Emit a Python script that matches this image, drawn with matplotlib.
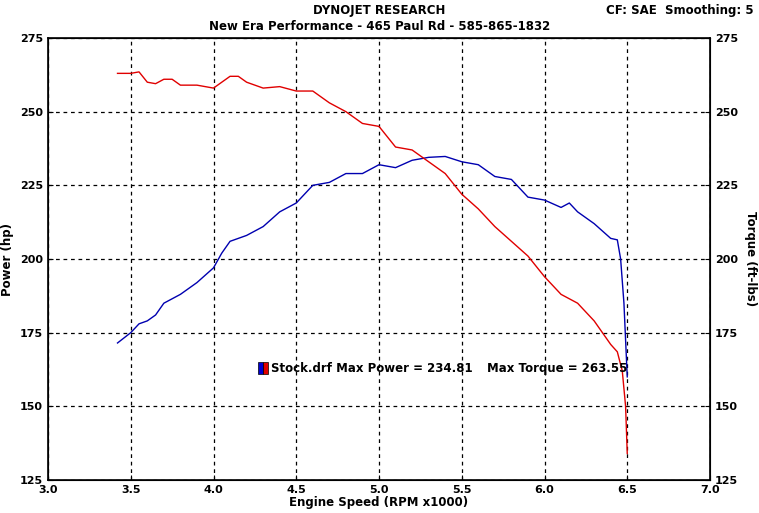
import numpy as np
import matplotlib.pyplot as plt
from matplotlib.patches import Rectangle

# Power curve (hp) vs engine speed (RPM x1000)
power_rpm = [3.42, 3.5, 3.55, 3.6, 3.65, 3.7, 3.8, 3.9, 4.0, 4.05, 4.1, 4.2, 4.3, 4.4, 4.5,
             4.6, 4.7, 4.8, 4.9, 5.0, 5.1, 5.2, 5.3, 5.4, 5.5, 5.6, 5.7, 5.8, 5.9, 6.0,
             6.1, 6.15, 6.2, 6.3, 6.4, 6.44, 6.46, 6.48, 6.5]
power_hp = [171.5, 175, 178, 179, 181, 185, 188, 192, 197, 202, 206, 208, 211, 216, 219,
            225, 226, 229, 229, 232, 231, 233.5, 234.5, 234.8, 233, 232, 228, 227, 221, 220,
            217.5, 219, 216, 212, 207, 206.5, 200, 185, 160]

# Torque curve (ft-lbs)
torque_rpm = [3.42, 3.5, 3.55, 3.6, 3.65, 3.7, 3.75, 3.8, 3.9, 4.0, 4.1, 4.15, 4.2, 4.3,
              4.4, 4.5, 4.6, 4.7, 4.8, 4.9, 5.0, 5.1, 5.2, 5.3, 5.4, 5.5, 5.6, 5.7,
              5.8, 5.9, 6.0, 6.1, 6.2, 6.3, 6.4, 6.44, 6.47, 6.49, 6.5]
torque_ftlb = [263, 263, 263.5, 260, 259.5, 261, 261, 259, 259, 258, 262, 262, 260, 258,
               258.5, 257, 257, 253, 250, 246, 245, 238, 237, 233, 229, 222, 217, 211,
               206, 201, 194, 188, 185, 179, 171, 168.5, 162, 150, 134]

plt.rcParams['font.family'] = ['DejaVu Sans']
fig = plt.figure(figsize=(7.59, 5.13), dpi=100)
ax = fig.add_axes([48 / 759, 1 - 480 / 513, 662 / 759, 442 / 513])

ax.plot(power_rpm, power_hp, color='#0000b0', linewidth=1)
ax.plot(torque_rpm, torque_ftlb, color='#e00000', linewidth=1)

ax.set_xlim(3.0, 7.0)
ax.set_ylim(125, 275)
ax.set_xticks(np.arange(3.0, 7.01, 0.5))
ax.set_yticks(np.arange(125, 276, 25))
ax.grid(True, color='black', linestyle=(0, (3, 3)), linewidth=0.9)
for s in ax.spines.values():
    s.set_linewidth(1.2)
ax.tick_params(labelsize=8, direction='in')
for lab in ax.get_xticklabels() + ax.get_yticklabels():
    lab.set_fontweight('bold')

ax2 = ax.twinx()
ax2.set_ylim(125, 275)
ax2.set_yticks(np.arange(125, 276, 25))
ax2.tick_params(labelsize=8, direction='in')
for lab in ax2.get_yticklabels():
    lab.set_fontweight('bold')

ax.set_xlabel('Engine Speed (RPM x1000)', fontsize=8.5, fontweight='bold', labelpad=1)
ax.set_ylabel('Power (hp)', fontsize=8.5, fontweight='bold', labelpad=4)
ax2.set_ylabel('Torque (ft-lbs)', fontsize=8.5, fontweight='bold', rotation=270, labelpad=14)

fig.text(0.5, 1 - 11 / 513, 'DYNOJET RESEARCH', ha='center', va='center', fontsize=8.5, fontweight='bold')
fig.text(0.5, 1 - 26 / 513, 'New Era Performance - 465 Paul Rd - 585-865-1832', ha='center', va='center',
         fontsize=8.5, fontweight='bold')
fig.text(1 - 5 / 759, 1 - 11 / 513, 'CF: SAE  Smoothing: 5', ha='right', va='center', fontsize=8.5,
         fontweight='bold')

# legend-like label
ax.add_patch(Rectangle((4.27, 161), 0.03, 4, facecolor='#0000d0', edgecolor='black', lw=0.5))
ax.add_patch(Rectangle((4.30, 161), 0.03, 4, facecolor='#e00000', edgecolor='black', lw=0.5))
ax.text(4.35, 163, 'Stock.drf Max Power = 234.81', fontsize=8.5, fontweight='bold', va='center')
ax.text(5.65, 163, 'Max Torque = 263.55', fontsize=8.5, fontweight='bold', va='center')

fig.savefig('out.png', dpi=100)
